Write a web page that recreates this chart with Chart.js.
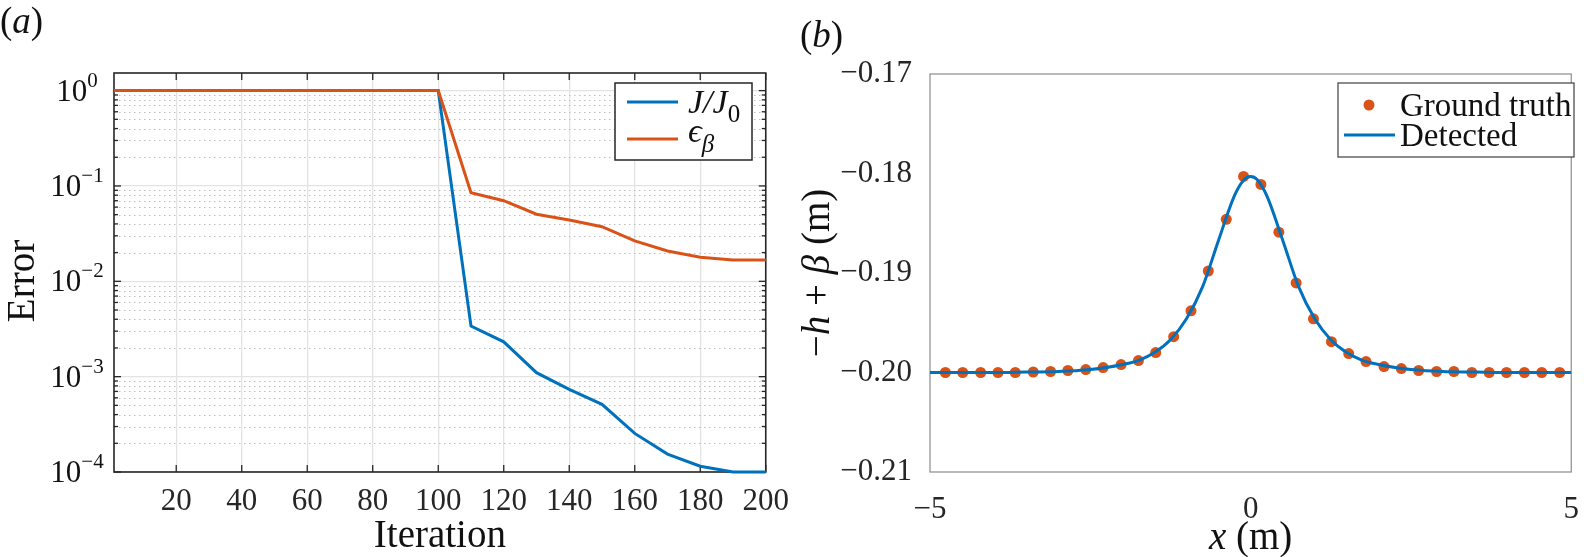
<!DOCTYPE html>
<html>
<head>
<meta charset="utf-8">
<script src="https://cdn.jsdelivr.net/npm/chart.js@4.4.1/dist/chart.umd.min.js"></script>
<style>
  body { margin: 0; background: #fff; }
  #wrap { position: relative; width: 1590px; height: 557px; }
  canvas { position: absolute; top: 0; }
  #chart-a { left: 0; }
  #chart-b { left: 800px; }
</style>
</head>
<body>
<div id="wrap">
  <canvas id="chart-a" width="800" height="557"></canvas>
  <canvas id="chart-b" width="790" height="557"></canvas>
</div>
<script>
const SERIF = "'Liberation Serif', 'Times New Roman', serif";
const BLUE = '#0072BD';
const ORANGE = '#D95319';
const INK = '#262626';

// panel (a): convergence history
const iterations = [1, 10, 20, 30, 40, 50, 60, 70, 80, 90, 100, 110, 120, 130, 140, 150, 160, 170, 180, 190, 200];
const costRatio = [1, 1, 1, 1, 1, 1, 1, 1, 1, 1, 1, 3.4e-3, 2.32e-3, 1.10e-3, 7.35e-4, 5.12e-4, 2.54e-4, 1.54e-4, 1.15e-4, 1.0e-4, 1.0e-4];
const betaError = [1, 1, 1, 1, 1, 1, 1, 1, 1, 1, 1, 0.085, 0.070, 0.0505, 0.044, 0.0374, 0.0265, 0.0208, 0.0179, 0.0167, 0.0167];
const iterTicks = [20, 40, 60, 80, 100, 120, 140, 160, 180, 200];
const errorTicks = [1e-4, 1e-3, 1e-2, 1e-1, 1];
const minorSteps = [2, 3, 4, 5, 6, 7, 8, 9];

// panel (b): bottom profile
const truthX = [-4.76, -4.49, -4.21, -3.94, -3.67, -3.39, -3.12, -2.85, -2.57, -2.30, -2.02, -1.75, -1.48, -1.20, -0.93, -0.66, -0.38, -0.11,
                0.16, 0.44, 0.71, 0.98, 1.26, 1.53, 1.80, 2.08, 2.35, 2.62, 2.90, 3.17, 3.45, 3.72, 3.99, 4.27, 4.54, 4.82];
const truthY = [-0.2000, -0.2000, -0.2000, -0.2000, -0.2000, -0.19995, -0.1999, -0.1998, -0.1997, -0.1995, -0.1992, -0.1988, -0.1980, -0.1964, -0.1938, -0.1898, -0.1846, -0.1803,
                -0.1811, -0.1859, -0.1910, -0.1946, -0.1969, -0.1981, -0.1989, -0.1994, -0.1996, -0.1998, -0.1999, -0.1999, -0.2000, -0.2000, -0.2000, -0.2000, -0.2000, -0.2000];
const detectedX = [-5, -4.5, -4, -3.5, -3, -2.5, -2.25, -2, -1.75, -1.5, -1.25, -1, -0.75, -0.5, -0.25, -0.1, 0,
                   0.1, 0.25, 0.5, 0.75, 1, 1.25, 1.5, 1.75, 2, 2.25, 2.5, 3, 3.5, 4, 4.5, 5];
const detectedY = [-0.2000, -0.2000, -0.2000, -0.19995, -0.1999, -0.1997, -0.1995, -0.1992, -0.1988, -0.1980, -0.1967, -0.1946, -0.1914, -0.1867, -0.1822, -0.1806, -0.1803,
                   -0.1806, -0.1822, -0.1867, -0.1914, -0.1946, -0.1967, -0.1980, -0.1988, -0.1992, -0.1995, -0.1997, -0.1999, -0.19995, -0.2000, -0.2000, -0.2000];
const xTicksB = [-5, 0, 5];
const yTicksB = [-0.21, -0.20, -0.19, -0.18, -0.17];

Chart.defaults.font.family = SERIF;
Chart.defaults.color = INK;

function drawRich(ctx, parts, x, y, align) {
    ctx.save();
    let total = 0;
    parts.forEach(p => {
        ctx.font = `${p.italic ? 'italic ' : ''}${p.size}px ${SERIF}`;
        p.w = ctx.measureText(p.text).width;
        total += p.w;
    });
    let cx = align === 'center' ? x - total / 2 : (align === 'right' ? x - total : x);
    ctx.textAlign = 'left';
    ctx.textBaseline = 'alphabetic';
    ctx.fillStyle = '#111';
    parts.forEach(p => {
        ctx.font = `${p.italic ? 'italic ' : ''}${p.size}px ${SERIF}`;
        ctx.fillText(p.text, cx, y + (p.dy || 0));
        cx += p.w;
    });
    ctx.restore();
}

function drawVertical(ctx, parts, cx, cy, baseline) {
    ctx.save();
    ctx.translate(cx, cy);
    ctx.rotate(-Math.PI / 2);
    drawRich(ctx, parts, 0, baseline, 'center');
    ctx.restore();
}

function hLine(ctx, x1, x2, y) {
    ctx.beginPath();
    ctx.moveTo(x1, y);
    ctx.lineTo(x2, y);
    ctx.stroke();
}

function vLine(ctx, x, y1, y2) {
    ctx.beginPath();
    ctx.moveTo(x, y1);
    ctx.lineTo(x, y2);
    ctx.stroke();
}

const panelAPlugin = {
    id: 'panelA',
    beforeDatasetsDraw(chart) {
        const {ctx, chartArea: a, scales: {x, y}} = chart;
        ctx.save();
        // dotted minor grid
        ctx.strokeStyle = '#bdbdbd';
        ctx.lineWidth = 1;
        ctx.setLineDash([1.5, 3.5]);
        errorTicks.forEach(d => {
            minorSteps.forEach(m => {
                const v = d * m;
                if (v >= y.max) return;
                hLine(ctx, a.left, a.right, Math.round(y.getPixelForValue(v)) + 0.5);
            });
        });
        ctx.setLineDash([]);
        // axes box and inward ticks
        ctx.strokeStyle = INK;
        ctx.lineWidth = 1.6;
        ctx.strokeRect(a.left, a.top, a.right - a.left, a.bottom - a.top);
        ctx.lineWidth = 1.3;
        iterTicks.forEach(v => {
            const px = x.getPixelForValue(v);
            vLine(ctx, px, a.bottom, a.bottom - 7);
            vLine(ctx, px, a.top, a.top + 7);
        });
        errorTicks.forEach(d => {
            const py = y.getPixelForValue(d);
            hLine(ctx, a.left, a.left + 7, py);
            hLine(ctx, a.right, a.right - 7, py);
            minorSteps.forEach(m => {
                const v = d * m;
                if (v >= y.max) return;
                const pm = y.getPixelForValue(v);
                hLine(ctx, a.left, a.left + 4, pm);
                hLine(ctx, a.right, a.right - 4, pm);
            });
        });
        ctx.restore();
    },
    afterDraw(chart) {
        const {ctx, scales: {y}} = chart;
        // log tick labels with superscript exponents
        errorTicks.forEach(v => {
            const e = Math.round(Math.log10(v));
            const py = y.getPixelForValue(v);
            drawRich(ctx, [
                {text: '10', size: 31},
                {text: e < 0 ? '\u2212' + (-e) : String(e), size: 21, dy: -14}
            ], 77, py + 10, 'center');
        });
        // y axis title
        drawVertical(ctx, [{text: 'Error', size: 39}], 21, 281, 13);
        // legend
        ctx.save();
        ctx.fillStyle = '#fff';
        ctx.fillRect(615, 83, 137, 77);
        ctx.strokeStyle = INK;
        ctx.lineWidth = 1.5;
        ctx.strokeRect(615, 83, 137, 77);
        ctx.lineWidth = 3;
        ctx.strokeStyle = BLUE;
        hLine(ctx, 627, 678, 102);
        ctx.strokeStyle = ORANGE;
        hLine(ctx, 627, 678, 139);
        ctx.restore();
        drawRich(ctx, [
            {text: 'J/J', size: 34, italic: true},
            {text: '0', size: 25, dy: 9}
        ], 688, 113, 'left');
        drawRich(ctx, [
            {text: '\u03F5', size: 34, italic: true},
            {text: '\u03B2', size: 25, italic: true, dy: 10}
        ], 688, 142, 'left');
        // panel label
        drawRich(ctx, [
            {text: '(', size: 37},
            {text: 'a', size: 37, italic: true},
            {text: ')', size: 37}
        ], 0, 33, 'left');
    }
};

const panelBPlugin = {
    id: 'panelB',
    beforeDatasetsDraw(chart) {
        const {ctx, chartArea: a} = chart;
        ctx.save();
        ctx.strokeStyle = '#8c8c8c';
        ctx.lineWidth = 1.2;
        ctx.strokeRect(a.left, a.top, a.right - a.left, a.bottom - a.top);
        ctx.restore();
    },
    afterDraw(chart) {
        const {ctx, chartArea: a} = chart;
        // legend
        ctx.save();
        ctx.fillStyle = '#fff';
        ctx.fillRect(538, 83, 236, 74);
        ctx.strokeStyle = '#4d4d4d';
        ctx.lineWidth = 1.3;
        ctx.strokeRect(538, 83, 236, 74);
        ctx.fillStyle = ORANGE;
        ctx.beginPath();
        ctx.arc(569, 105, 5.5, 0, Math.PI * 2);
        ctx.fill();
        ctx.strokeStyle = BLUE;
        ctx.lineWidth = 3;
        hLine(ctx, 544, 595, 135);
        ctx.restore();
        drawRich(ctx, [{text: 'Ground truth', size: 33}], 600, 116, 'left');
        drawRich(ctx, [{text: 'Detected', size: 33}], 600, 146, 'left');
        // axis titles
        drawRich(ctx, [
            {text: 'x', size: 39, italic: true},
            {text: ' (m)', size: 39}
        ], (a.left + a.right) / 2, 549, 'center');
        drawVertical(ctx, [
            {text: '\u2212', size: 39},
            {text: 'h', size: 39, italic: true},
            {text: ' + ', size: 39},
            {text: '\u03B2', size: 39, italic: true},
            {text: ' (m)', size: 39}
        ], 18, (a.top + a.bottom) / 2, 11);
        // panel label
        drawRich(ctx, [
            {text: '(', size: 37},
            {text: 'b', size: 37, italic: true},
            {text: ')', size: 37}
        ], 0, 47, 'left');
    }
};

function minusLabel(v, digits) {
    const s = Math.abs(v).toFixed(digits);
    return v < 0 ? '\u2212' + s : s;
}

function drawPanelA() {
    const ctx = document.getElementById('chart-a').getContext('2d');
    new Chart(ctx, {
        type: 'line',
        data: {
            datasets: [{
                label: 'J/J0',
                data: iterations.map((it, i) => ({x: it, y: costRatio[i]})),
                borderColor: BLUE,
                borderWidth: 3,
                pointRadius: 0,
                tension: 0,
                clip: 6,
                order: 1
            }, {
                label: 'eps_beta',
                data: iterations.map((it, i) => ({x: it, y: betaError[i]})),
                borderColor: ORANGE,
                borderWidth: 3,
                pointRadius: 0,
                tension: 0,
                clip: 6,
                order: 0
            }]
        },
        options: {
            responsive: false,
            animation: false,
            events: [],
            layout: {autoPadding: false, padding: {top: 73, right: 34, left: 0, bottom: 0}},
            plugins: {legend: {display: false}, tooltip: {enabled: false}},
            scales: {
                x: {
                    type: 'linear',
                    min: 1,
                    max: 200,
                    afterBuildTicks: s => { s.ticks = iterTicks.map(v => ({value: v})); },
                    afterFit: s => { s.height = 85; },
                    ticks: {font: {size: 31}, padding: 11, maxRotation: 0, autoSkip: false},
                    grid: {color: '#e3e3e3', lineWidth: 1.3, drawTicks: false},
                    border: {display: false},
                    title: {display: true, text: 'Iteration', font: {size: 39}, color: '#111', padding: {top: 0, bottom: -3}}
                },
                y: {
                    type: 'logarithmic',
                    min: 1e-4,
                    max: 1.53,
                    afterBuildTicks: s => { s.ticks = errorTicks.map(v => ({value: v})); },
                    afterFit: s => { s.width = 114; },
                    ticks: {display: false},
                    grid: {color: '#e3e3e3', lineWidth: 1.3, drawTicks: false},
                    border: {display: false}
                }
            }
        },
        plugins: [panelAPlugin]
    });
}

function drawPanelB() {
    const ctx = document.getElementById('chart-b').getContext('2d');
    new Chart(ctx, {
        type: 'scatter',
        data: {
            datasets: [{
                label: 'Detected',
                data: detectedX.map((x, i) => ({x: x, y: detectedY[i]})),
                showLine: true,
                borderColor: BLUE,
                borderWidth: 3,
                pointRadius: 0,
                cubicInterpolationMode: 'monotone',
                order: 0
            }, {
                label: 'Ground truth',
                data: truthX.map((x, i) => ({x: x, y: truthY[i]})),
                showLine: false,
                backgroundColor: ORANGE,
                borderWidth: 0,
                pointRadius: 5.5,
                order: 1
            }]
        },
        options: {
            responsive: false,
            animation: false,
            events: [],
            layout: {autoPadding: false, padding: {top: 74, right: 8, left: 0, bottom: 0}},
            plugins: {legend: {display: false}, tooltip: {enabled: false}},
            scales: {
                x: {
                    type: 'linear',
                    min: -5,
                    max: 5,
                    afterBuildTicks: s => { s.ticks = xTicksB.map(v => ({value: v})); },
                    afterFit: s => { s.height = 85; },
                    ticks: {font: {size: 31}, padding: 11, maxRotation: 0, autoSkip: false,
                            callback: v => minusLabel(v, 0)},
                    grid: {display: false},
                    border: {display: false}
                },
                y: {
                    type: 'linear',
                    min: -0.21,
                    max: -0.17,
                    afterBuildTicks: s => { s.ticks = yTicksB.map(v => ({value: v})); },
                    afterFit: s => { s.width = 130; },
                    ticks: {font: {size: 31}, padding: 10, callback: v => minusLabel(v, 2)},
                    grid: {display: false},
                    border: {display: false}
                }
            }
        },
        plugins: [panelBPlugin]
    });
}

function init() {
    drawPanelA();
    drawPanelB();
}

document.addEventListener('DOMContentLoaded', init);
</script>
</body>
</html>
